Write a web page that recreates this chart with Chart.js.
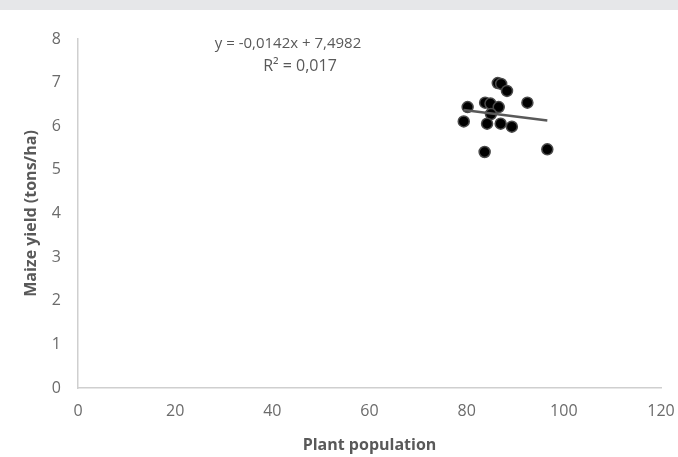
<!DOCTYPE html>
<html lang="en">
<head>
    <meta charset="UTF-8">
    <title>Maize yield vs plant population</title>
    <script src="https://cdn.jsdelivr.net/npm/chart.js"></script>
    <style>
        html, body { margin: 0; padding: 0; background: #fff; }
        canvas { display: block; }
    </style>
</head>
<body>
    <canvas id="myChart" width="678" height="457"></canvas>

    <script>
        // puntos
        const plantPop = [86.4, 87.1, 88.3, 80.2, 83.8, 84.9, 86.6, 85.0, 92.5, 79.4, 84.2, 87.0, 89.3, 83.7, 96.6];
        const maizeYield = [6.99, 6.97, 6.81, 6.44, 6.54, 6.52, 6.44, 6.28, 6.54, 6.11, 6.06, 6.06, 5.99, 5.41, 5.47];

        // linea de tendencia (extremos)
        const trendX = [79.4, 96.6];
        const trendY = [6.37, 6.13];

        const eqLines = ['y = -0,0142x + 7,4982', 'R² = 0,017'];

        const textGray = '#595959';
        const axisGray = '#cfcfcf';

        const points = plantPop.map((x, i) => ({ x: x, y: maizeYield[i] }));
        const trend = trendX.map((x, i) => ({ x: x, y: trendY[i] }));

        const decor = {
            id: 'decor',
            beforeDraw(chart) {
                const c = chart.ctx;
                c.save();
                c.fillStyle = '#e6e7e9';
                c.fillRect(0, 0, chart.width, 10);
                c.restore();
            },
            afterDraw(chart) {
                const c = chart.ctx;
                c.save();
                c.fillStyle = textGray;
                c.font = '15px "Open Sans"';
                c.textAlign = 'center';
                c.textBaseline = 'middle';
                c.fillText(eqLines[0], 288, 44);
                c.font = '16px "Open Sans"';
                c.fillText(eqLines[1], 300, 66);
                c.restore();
            }
        };

        const ctx = document.getElementById('myChart').getContext('2d');
        new Chart(ctx, {
            type: 'scatter',
            data: {
                datasets: [
                    {
                        label: 'Trend',
                        type: 'line',
                        data: trend,
                        borderColor: '#595959',
                        borderWidth: 2.5,
                        pointRadius: 0,
                        fill: false
                    },
                    {
                        label: 'Yield',
                        data: points,
                        backgroundColor: '#000000',
                        borderColor: '#4a4a4a',
                        borderWidth: 1.5,
                        pointRadius: 5.5
                    }
                ]
            },
            options: {
                responsive: false,
                animation: false,
                layout: { padding: { top: 39, right: 17, left: 0, bottom: 0 } },
                plugins: {
                    legend: { display: false },
                    tooltip: { enabled: false }
                },
                scales: {
                    x: {
                        type: 'linear',
                        min: 0,
                        max: 120,
                        ticks: { stepSize: 20, color: '#6b6b6b', font: { family: 'Open Sans', size: 16 }, padding: 14 },
                        grid: { drawOnChartArea: false, drawTicks: false, color: 'transparent' },
                        border: { display: true, color: axisGray, width: 1.5 },
                        title: { display: true, text: 'Plant population', color: textGray, font: { family: 'Open Sans', size: 16, weight: 'bold' }, padding: { top: 0, bottom: 2 } },
                        afterFit(scale) {
                            scale.height = 69;
                            scale.paddingLeft = 0;
                            scale.paddingRight = 0;
                        }
                    },
                    y: {
                        min: 0,
                        max: 8,
                        ticks: { stepSize: 1, color: '#6b6b6b', font: { family: 'Open Sans', size: 16 }, padding: 17 },
                        grid: { drawOnChartArea: false, drawTicks: false, color: 'transparent' },
                        border: { display: true, color: axisGray, width: 1.5 },
                        title: { display: true, text: 'Maize yield (tons/ha)', color: textGray, font: { family: 'Open Sans', size: 16, weight: 'bold' }, padding: { top: 22, bottom: 0 } },
                        afterFit(scale) {
                            scale.width = 78;
                            scale.paddingTop = 0;
                            scale.paddingBottom = 0;
                        }
                    }
                }
            },
            plugins: [decor]
        });
    </script>
</body>
</html>
